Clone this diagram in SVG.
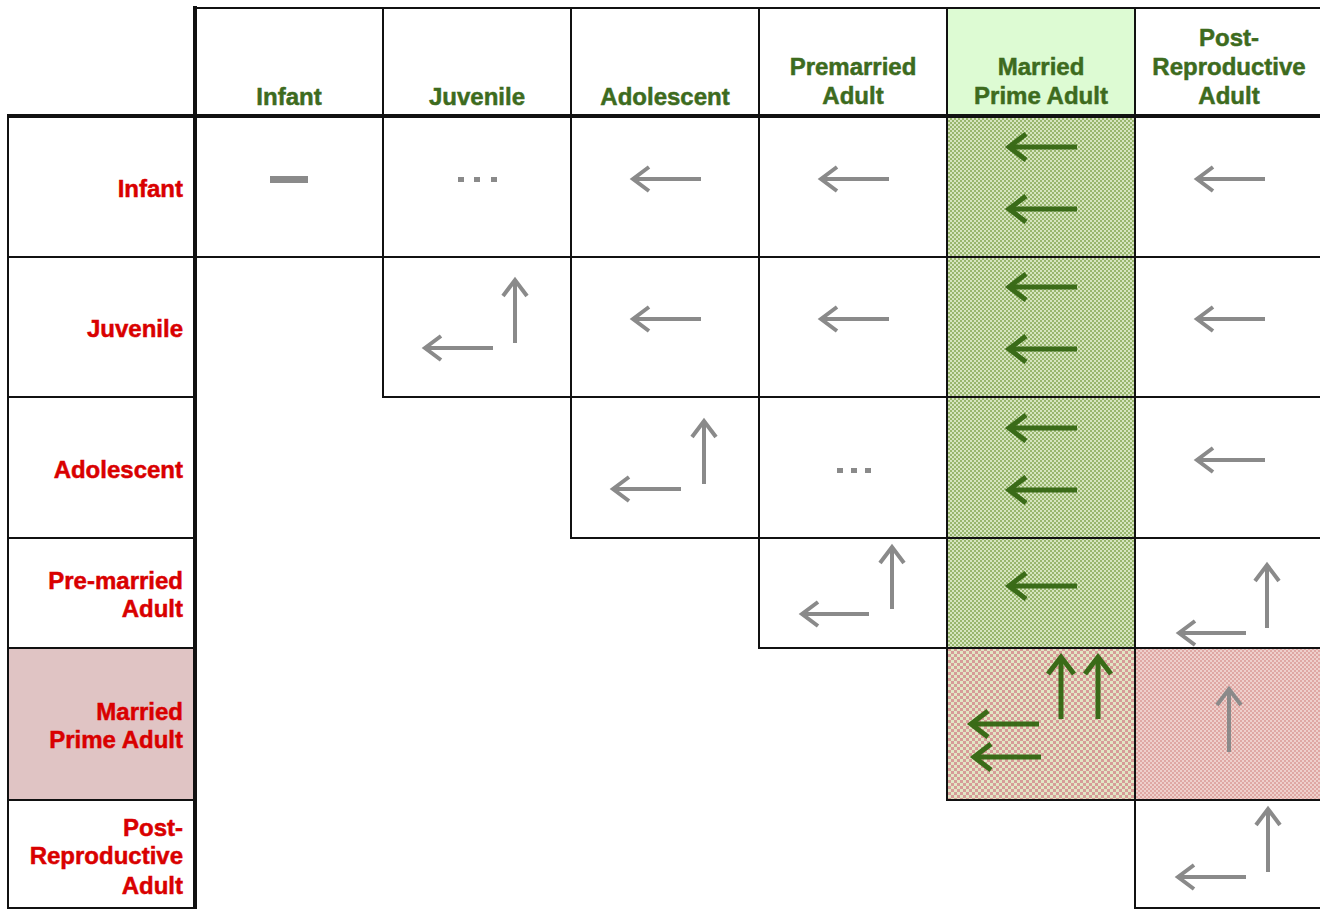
<svg xmlns="http://www.w3.org/2000/svg" width="1320" height="910" viewBox="0 0 1320 910">
<style>
.cell{fill:none;stroke:#111;stroke-width:2}
.thick{stroke:#111;stroke-width:4;fill:none}
.hd{font-family:"Liberation Sans",Arial,sans-serif;font-weight:bold;font-size:24px;fill:#3d6b1e;stroke:#3d6b1e;stroke-width:0.5;text-anchor:middle}
.rl{font-family:"Liberation Sans",Arial,sans-serif;font-weight:bold;font-size:24px;fill:#d90000;stroke:#d90000;stroke-width:0.5;text-anchor:end}
.ga{stroke:#8a8a8a;stroke-width:4;fill:none;marker-end:url(#gh)}
.gr{stroke:#3a6b18;stroke-width:5;fill:none;marker-end:url(#grh)}
.sym{fill:#8a8a8a}
</style>
<defs>
<pattern id="pg" width="4" height="4" patternUnits="userSpaceOnUse">
<rect width="4" height="4" fill="#d6e5c0"/>
<rect width="2" height="2" fill="#98b66e"/>
<rect x="2" y="2" width="2" height="2" fill="#98b66e"/>
</pattern>
<pattern id="prg" width="6" height="6" patternUnits="userSpaceOnUse">
<rect width="6" height="6" fill="#e2e6c4"/>
<rect width="3" height="3" fill="#d69c98"/>
<rect x="3" y="3" width="3" height="3" fill="#d69c98"/>
</pattern>
<pattern id="pp" width="4" height="4" patternUnits="userSpaceOnUse">
<rect width="4" height="4" fill="#eed0cc"/>
<rect width="2" height="2" fill="#dfa8a4"/>
<rect x="2" y="2" width="2" height="2" fill="#dfa8a4"/>
</pattern>
<marker id="gh" markerUnits="userSpaceOnUse" markerWidth="40" markerHeight="40" refX="0" refY="0" viewBox="-20 -20 40 40" orient="auto" overflow="visible">
<path d="M-16,-12 L0,0 L-16,12" fill="none" stroke="#8a8a8a" stroke-width="4" stroke-linejoin="miter"/>
</marker>
<marker id="grh" markerUnits="userSpaceOnUse" markerWidth="40" markerHeight="40" refX="0" refY="0" viewBox="-20 -20 40 40" orient="auto" overflow="visible">
<path d="M-17,-13 L0,0 L-17,13" fill="none" stroke="#3a6b18" stroke-width="5" stroke-linejoin="miter"/>
</marker>
</defs>
<rect width="1320" height="910" fill="#fff"/>

<!-- header cells -->
<g id="h-infant"><rect class="cell" x="195" y="8" width="188" height="108"/><text class="hd" x="289" y="105">Infant</text></g>
<g id="h-juvenile"><rect class="cell" x="383" y="8" width="188" height="108"/><text class="hd" x="477" y="105">Juvenile</text></g>
<g id="h-adolescent"><rect class="cell" x="571" y="8" width="188" height="108"/><text class="hd" x="665" y="105">Adolescent</text></g>
<g id="h-premarried"><rect class="cell" x="759" y="8" width="188" height="108"/><text class="hd" x="853" y="75">Premarried</text><text class="hd" x="853" y="104">Adult</text></g>
<g id="h-married"><rect x="947" y="8" width="188" height="108" fill="#ddfbd3"/><rect class="cell" x="947" y="8" width="188" height="108"/><text class="hd" x="1041" y="75">Married</text><text class="hd" x="1041" y="104">Prime Adult</text></g>
<g id="h-postrepro"><rect class="cell" x="1135" y="8" width="188" height="108"/><text class="hd" x="1229" y="46">Post-</text><text class="hd" x="1229" y="75">Reproductive</text><text class="hd" x="1229" y="104">Adult</text></g>

<!-- row labels -->
<g id="r-infant"><rect class="cell" x="8" y="116" width="187" height="141"/><text class="rl" x="183" y="197">Infant</text></g>
<g id="r-juvenile"><rect class="cell" x="8" y="257" width="187" height="140"/><text class="rl" x="183" y="337">Juvenile</text></g>
<g id="r-adolescent"><rect class="cell" x="8" y="397" width="187" height="141"/><text class="rl" x="183" y="478">Adolescent</text></g>
<g id="r-premarried"><rect class="cell" x="8" y="538" width="187" height="110"/><text class="rl" x="183" y="589">Pre-married</text><text class="rl" x="183" y="617">Adult</text></g>
<g id="r-married"><rect x="8" y="648" width="187" height="152" fill="#e0c4c4"/><rect class="cell" x="8" y="648" width="187" height="152"/><text class="rl" x="183" y="720">Married</text><text class="rl" x="183" y="748">Prime Adult</text></g>
<g id="r-postrepro"><rect class="cell" x="8" y="800" width="187" height="108"/><text class="rl" x="183" y="836">Post-</text><text class="rl" x="183" y="864">Reproductive</text><text class="rl" x="183" y="894">Adult</text></g>

<!-- matrix cells -->
<g id="c-inf-inf"><rect class="cell" x="195" y="116" width="188" height="141"/><rect class="sym" x="270" y="176" width="38" height="7"/></g>
<g id="c-inf-juv"><rect class="cell" x="383" y="116" width="188" height="141"/><rect class="sym" x="458" y="177" width="6" height="5"/><rect class="sym" x="474" y="177" width="6" height="5"/><rect class="sym" x="491" y="177" width="6" height="5"/></g>
<g id="c-inf-ado"><rect class="cell" x="571" y="116" width="188" height="141"/></g>
<g id="c-inf-pre"><rect class="cell" x="759" y="116" width="188" height="141"/></g>
<g id="c-inf-mpa"><rect x="947" y="116" width="188" height="141" fill="url(#pg)"/><rect class="cell" x="947" y="116" width="188" height="141"/></g>
<g id="c-inf-pra"><rect class="cell" x="1135" y="116" width="188" height="141"/></g>

<g id="c-juv-juv"><rect class="cell" x="383" y="257" width="188" height="140"/></g>
<g id="c-juv-ado"><rect class="cell" x="571" y="257" width="188" height="140"/></g>
<g id="c-juv-pre"><rect class="cell" x="759" y="257" width="188" height="140"/></g>
<g id="c-juv-mpa"><rect x="947" y="257" width="188" height="140" fill="url(#pg)"/><rect class="cell" x="947" y="257" width="188" height="140"/></g>
<g id="c-juv-pra"><rect class="cell" x="1135" y="257" width="188" height="140"/></g>

<g id="c-ado-ado"><rect class="cell" x="571" y="397" width="188" height="141"/></g>
<g id="c-ado-pre"><rect class="cell" x="759" y="397" width="188" height="141"/><rect class="sym" x="837" y="468" width="6" height="5"/><rect class="sym" x="851" y="468" width="6" height="5"/><rect class="sym" x="865" y="468" width="6" height="5"/></g>
<g id="c-ado-mpa"><rect x="947" y="397" width="188" height="141" fill="url(#pg)"/><rect class="cell" x="947" y="397" width="188" height="141"/></g>
<g id="c-ado-pra"><rect class="cell" x="1135" y="397" width="188" height="141"/></g>

<g id="c-pre-pre"><rect class="cell" x="759" y="538" width="188" height="110"/></g>
<g id="c-pre-mpa"><rect x="947" y="538" width="188" height="110" fill="url(#pg)"/><rect class="cell" x="947" y="538" width="188" height="110"/></g>
<g id="c-pre-pra"><rect class="cell" x="1135" y="538" width="188" height="110"/></g>

<g id="c-mpa-mpa"><rect x="947" y="648" width="188" height="152" fill="url(#prg)"/><rect class="cell" x="947" y="648" width="188" height="152"/></g>
<g id="c-mpa-pra"><rect x="1135" y="648" width="188" height="152" fill="url(#pp)"/><rect class="cell" x="1135" y="648" width="188" height="152"/></g>

<g id="c-pra-pra"><rect class="cell" x="1135" y="800" width="188" height="108"/></g>

<!-- thick frame lines -->
<g id="frame">
<line class="thick" x1="195" y1="6" x2="195" y2="909"/>
<line class="thick" x1="7" y1="116" x2="1320" y2="116"/>
</g>

<!-- arrows -->
<g id="connectors">
<line class="ga" x1="701" y1="179" x2="633" y2="179"/>
<line class="ga" x1="889" y1="179" x2="821" y2="179"/>
<line class="ga" x1="1265" y1="179" x2="1197" y2="179"/>
<line class="ga" x1="493" y1="348" x2="425" y2="348"/>
<line class="ga" x1="701" y1="319" x2="633" y2="319"/>
<line class="ga" x1="889" y1="319" x2="821" y2="319"/>
<line class="ga" x1="1265" y1="319" x2="1197" y2="319"/>
<line class="ga" x1="681" y1="489" x2="613" y2="489"/>
<line class="ga" x1="1265" y1="460" x2="1197" y2="460"/>
<line class="ga" x1="869" y1="614" x2="802" y2="614"/>
<line class="ga" x1="1246" y1="633" x2="1179" y2="633"/>
<line class="ga" x1="1246" y1="877" x2="1178" y2="877"/>
<line class="ga" x1="515" y1="343" x2="515" y2="280"/>
<line class="ga" x1="704" y1="484" x2="704" y2="421"/>
<line class="ga" x1="892" y1="609" x2="892" y2="547"/>
<line class="ga" x1="1267" y1="628" x2="1267" y2="565"/>
<line class="ga" x1="1229" y1="752" x2="1229" y2="689"/>
<line class="ga" x1="1268" y1="872" x2="1268" y2="809"/>

<line class="gr" x1="1077" y1="147" x2="1009" y2="147"/>
<line class="gr" x1="1077" y1="209" x2="1009" y2="209"/>
<line class="gr" x1="1077" y1="287" x2="1009" y2="287"/>
<line class="gr" x1="1077" y1="349" x2="1009" y2="349"/>
<line class="gr" x1="1077" y1="428" x2="1009" y2="428"/>
<line class="gr" x1="1077" y1="490" x2="1009" y2="490"/>
<line class="gr" x1="1077" y1="586" x2="1009" y2="586"/>
<line class="gr" x1="1039" y1="724" x2="971" y2="724"/>
<line class="gr" x1="1041" y1="757" x2="974" y2="757"/>
<line class="gr" x1="1061" y1="719" x2="1061" y2="657"/>
<line class="gr" x1="1098" y1="719" x2="1098" y2="657"/>
</g>
</svg>
